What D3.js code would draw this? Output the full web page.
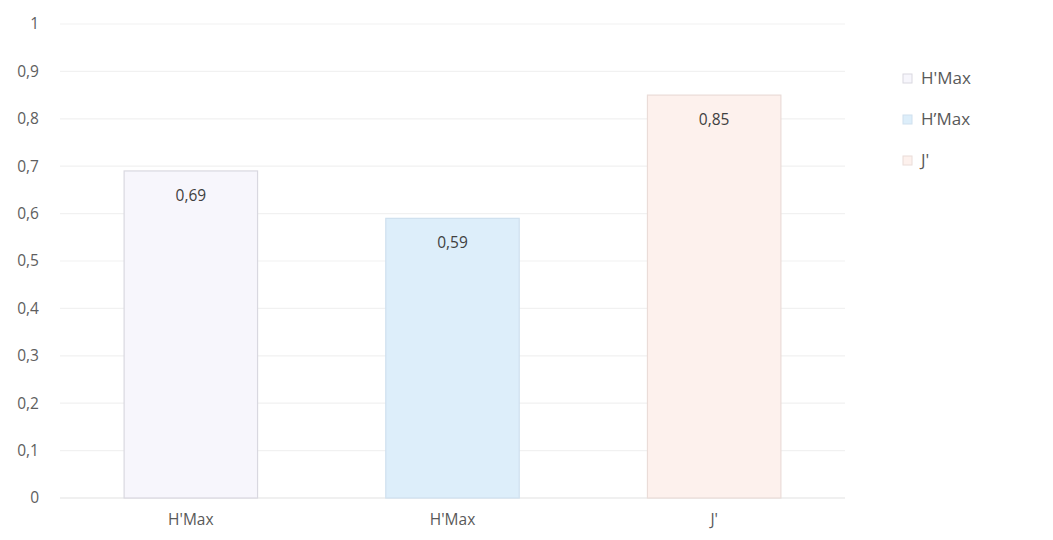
<!DOCTYPE html>
<html>
<head>
<meta charset="utf-8">
<script src="https://cdn.jsdelivr.net/npm/d3@7"></script>
<style>
  body { margin: 0; background: #fff; }
  text { font-family: "Open Sans", Lato, sans-serif; }
</style>
</head>
<body>
<svg id="drawing_region"></svg>
<script>
const categories = ["H'Max", "H\u2019Max", "J'"];
const axisLabels = ["H'Max", "H'Max", "J'"];
const values = [0.69, 0.59, 0.85];
const valueLabels = ["0,69", "0,59", "0,85"];
const yTicks = [0, 0.1, 0.2, 0.3, 0.4, 0.5, 0.6, 0.7, 0.8, 0.9, 1];
const legendLabels = ["H'Max", "H\u2019Max", "J'"];

const fills = ["#f7f6fc", "#ddeefa", "#fdf1ed"];
const strokes = ["#d9d8e0", "#cfe0ee", "#eadcd8"];

const config = {
    width: 1053,
    height: 540,
    margin: {top: 24, right: 208, bottom: 42, left: 60}
};

const svg = d3.select('#drawing_region')
    .attr('width', config.width)
    .attr('height', config.height);

const inner_width = config.width - config.margin.left - config.margin.right;
const inner_height = config.height - config.margin.top - config.margin.bottom;

const chart = svg.append('g')
    .attr('transform', `translate(${config.margin.left}, ${config.margin.top})`);

const xscale = d3.scaleBand()
    .domain(d3.range(categories.length))
    .range([0, inner_width])
    .paddingInner(0.49)
    .paddingOuter(0.245);

const yscale = d3.scaleLinear()
    .domain([0, 1])
    .range([inner_height, 0]);

// gridlines
chart.append('g')
    .selectAll('line')
    .data(yTicks)
    .join('line')
    .attr('x1', 0)
    .attr('x2', inner_width)
    .attr('y1', d => yscale(d))
    .attr('y2', d => yscale(d))
    .attr('stroke', d => d === 0 ? '#e2e2e2' : '#f1f1f1')
    .attr('stroke-width', 1.2);

// y axis
const yaxis = d3.axisLeft(yscale)
    .tickValues(yTicks)
    .tickSize(0)
    .tickPadding(21)
    .tickFormat(d => String(d).replace('.', ','));

chart.append('g')
    .call(yaxis)
    .call(g => g.select('.domain').remove())
    .selectAll('text')
    .attr('fill', '#5e5e5e')
    .style('font-size', '15.5px');

// x axis
const xaxis = d3.axisBottom(xscale)
    .tickSize(0)
    .tickPadding(16)
    .tickFormat(i => axisLabels[i]);

chart.append('g')
    .attr('transform', `translate(0, ${inner_height})`)
    .call(xaxis)
    .call(g => g.select('.domain').remove())
    .selectAll('text')
    .attr('fill', '#595959')
    .style('font-size', '15.5px');

// bars
chart.selectAll('rect.bar')
    .data(values)
    .join('rect')
    .attr('class', 'bar')
    .attr('x', (d, i) => xscale(i))
    .attr('y', d => yscale(d))
    .attr('width', xscale.bandwidth())
    .attr('height', d => inner_height - yscale(d))
    .attr('fill', (d, i) => fills[i])
    .attr('stroke', (d, i) => strokes[i])
    .attr('stroke-width', 1.2);

// value labels
chart.selectAll('text.val')
    .data(values)
    .join('text')
    .attr('class', 'val')
    .attr('x', (d, i) => xscale(i) + xscale.bandwidth() / 2)
    .attr('y', d => yscale(d) + 30)
    .attr('text-anchor', 'middle')
    .attr('fill', '#404040')
    .style('font-size', '15.5px')
    .text((d, i) => valueLabels[i]);

// legend
const legend = svg.append('g')
    .attr('transform', 'translate(903, 78)');

const item = legend.selectAll('g')
    .data(legendLabels)
    .join('g')
    .attr('transform', (d, i) => `translate(0, ${i * 41})`);

item.append('rect')
    .attr('x', 0)
    .attr('y', -4)
    .attr('width', 9)
    .attr('height', 9)
    .attr('fill', (d, i) => fills[i])
    .attr('stroke', (d, i) => strokes[i]);

item.append('text')
    .attr('x', 18)
    .attr('y', 0)
    .attr('dy', '0.35em')
    .attr('fill', '#595959')
    .style('font-size', '17px')
    .text(d => d);
</script>
</body>
</html>
